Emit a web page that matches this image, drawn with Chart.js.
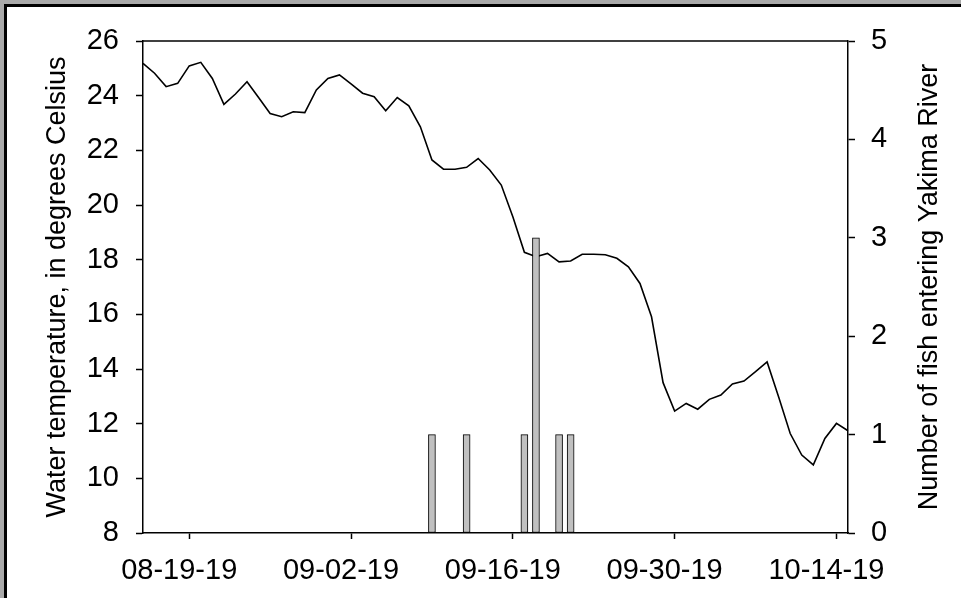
<!DOCTYPE html>
<html>
<head>
<meta charset="utf-8">
<script src="https://cdn.jsdelivr.net/npm/chart.js@4.4.1/dist/chart.umd.min.js"></script>
<style>
  html, body { margin: 0; padding: 0; }
  body { width: 961px; height: 598px; overflow: hidden; background: #a9a9a9; position: relative; }
  #frame { position: absolute; left: 4px; top: 4px; right: -10px; bottom: -10px; background: #fff; border-left: 3px solid #000; border-top: 3px solid #000; }
  #chart { position: absolute; left: 0; top: 0; }
</style>
</head>
<body>
<div id="frame"></div>
<canvas id="chart" width="961" height="598"></canvas>
<script>
// daily water temperature, 08-15-19 .. 10-15-19
const startDate = new Date(2019, 7, 15);
const dayCount = 62;
const temperature = [
    25.18, 24.82, 24.33, 24.45, 25.09, 25.22, 24.63, 23.68, 24.06, 24.51,
    23.93, 23.35, 23.23, 23.41, 23.38, 24.21, 24.63, 24.76, 24.43, 24.09,
    23.96, 23.45, 23.93, 23.63, 22.86, 21.65, 21.31, 21.31, 21.38, 21.70,
    21.28, 20.73, 19.57, 18.27, 18.11, 18.23, 17.92, 17.95, 18.20, 18.20,
    18.18, 18.05, 17.74, 17.13, 15.91, 13.50, 12.46, 12.74, 12.53, 12.89,
    13.05, 13.45, 13.56, 13.90, 14.26, 12.98, 11.64, 10.85, 10.49, 11.46,
    12.01, 11.74
];

// fish entering Yakima River
const fishDates = ['09-09-19', '09-12-19', '09-17-19', '09-18-19', '09-20-19', '09-21-19'];
const fishCounts = [1, 1, 1, 3, 1, 1];

const tickLabels = ['08-19-19', '09-02-19', '09-16-19', '09-30-19', '10-14-19'];
const leftTitle = 'Water temperature, in degrees Celsius';
const rightTitle = 'Number of fish entering Yakima River';

const FONT = '"Liberation Sans", Arial, sans-serif';

function fmt(d) {
    const mm = String(d.getMonth() + 1).padStart(2, '0');
    const dd = String(d.getDate()).padStart(2, '0');
    const yy = String(d.getFullYear()).slice(2);
    return `${mm}-${dd}-${yy}`;
}

const dates = [];
for (let i = 0; i < dayCount; i++) {
    const d = new Date(startDate);
    d.setDate(d.getDate() + i);
    dates.push(fmt(d));
}

const fishSeries = dates.map(label => {
    const k = fishDates.indexOf(label);
    return k >= 0 ? fishCounts[k] : null;
});

// top frame line and the right title (reads bottom to top)
const frameExtras = {
    id: 'frameExtras',
    afterDraw(chart) {
        const { ctx, chartArea } = chart;
        ctx.save();
        ctx.strokeStyle = '#000';
        ctx.lineWidth = 1.5;
        ctx.beginPath();
        ctx.moveTo(chartArea.left, chartArea.top);
        ctx.lineTo(chartArea.right, chartArea.top);
        ctx.stroke();

        ctx.font = `27px ${FONT}`;
        ctx.fillStyle = '#000';
        ctx.textAlign = 'center';
        ctx.textBaseline = 'middle';
        ctx.translate(930, (chartArea.top + chartArea.bottom) / 2);
        ctx.rotate(-Math.PI / 2);
        ctx.fillText(rightTitle, 0, 0);
        ctx.restore();
    }
};

new Chart(document.getElementById('chart'), {
    type: 'bar',
    data: {
        labels: dates,
        datasets: [
            {
                type: 'bar',
                label: 'Fish',
                data: fishSeries,
                yAxisID: 'y1',
                backgroundColor: '#c0c0c0',
                borderColor: '#000',
                borderWidth: 1,
                borderSkipped: false,
                barThickness: 7,
                order: 0
            },
            {
                type: 'line',
                label: 'Temperature',
                data: temperature,
                yAxisID: 'y',
                borderColor: '#000',
                borderWidth: 1.6,
                pointRadius: 0,
                tension: 0,
                fill: false,
                order: 1
            }
        ]
    },
    options: {
        responsive: false,
        devicePixelRatio: 1,
        animation: false,
        layout: { padding: { top: 41, left: 0, right: 0, bottom: 0 } },
        plugins: {
            legend: { display: false },
            tooltip: { enabled: false }
        },
        scales: {
            x: {
                type: 'category',
                offset: false,
                afterBuildTicks: scale => {
                    scale.ticks = scale.ticks.filter(t => tickLabels.includes(dates[t.value]));
                },
                afterFit: scale => { scale.height = 65; },
                grid: { offset: false, drawOnChartArea: false, drawTicks: true, tickLength: 6, tickColor: '#000', tickWidth: 1.5 },
                border: { color: '#000', width: 1.5 },
                ticks: {
                    autoSkip: false,
                    maxRotation: 0,
                    labelOffset: -10,
                    padding: 15,
                    color: '#000',
                    font: { family: FONT, size: 29 },
                    callback: function (value) { return this.getLabelForValue(value); }
                }
            },
            y: {
                position: 'left',
                min: 8,
                max: 26,
                afterFit: scale => { scale.width = 143; },
                grid: { drawOnChartArea: false, tickLength: 7, tickColor: '#000', tickWidth: 1.5 },
                border: { color: '#000', width: 1.5 },
                ticks: { stepSize: 2, padding: 17, color: '#000', font: { family: FONT, size: 29 } },
                title: {
                    display: true,
                    text: leftTitle,
                    color: '#000',
                    font: { family: FONT, size: 27 },
                    padding: { top: 41, bottom: 0 }
                }
            },
            y1: {
                position: 'right',
                min: 0,
                max: 5,
                afterFit: scale => { scale.width = 113; },
                grid: { drawOnChartArea: false, tickLength: 7, tickColor: '#000', tickWidth: 1.5 },
                border: { color: '#000', width: 1.5 },
                ticks: { stepSize: 1, padding: 16, color: '#000', font: { family: FONT, size: 29 } }
            }
        }
    },
    plugins: [frameExtras]
});
</script>
</body>
</html>
